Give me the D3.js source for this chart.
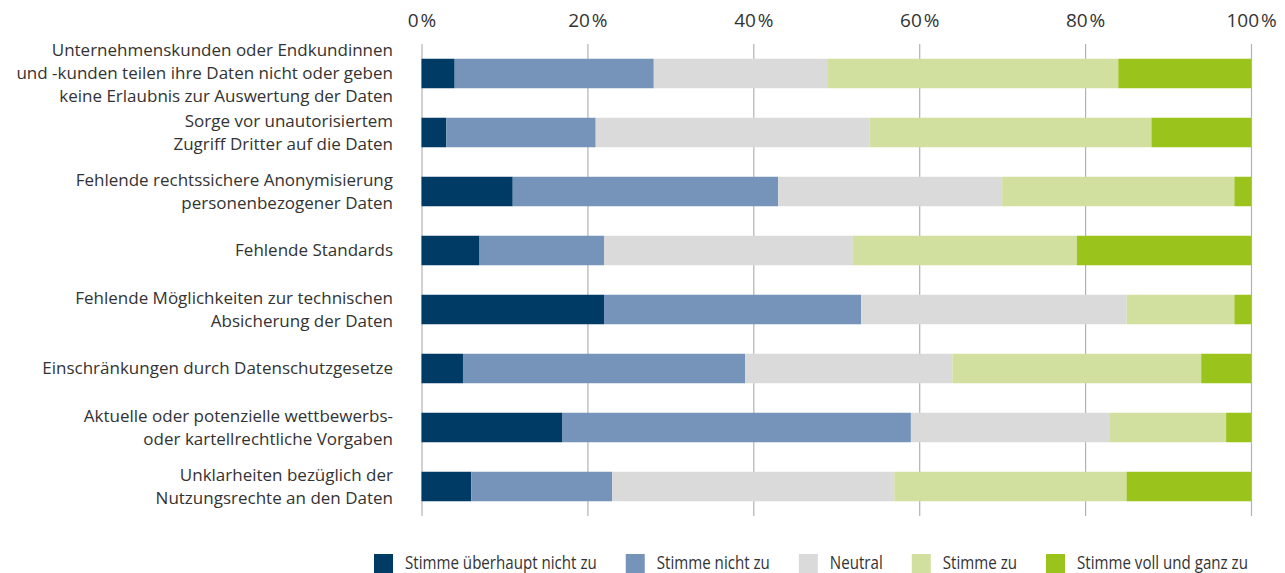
<!DOCTYPE html>
<html>
<head>
<meta charset="utf-8">
<script src="https://cdn.jsdelivr.net/npm/d3@7"></script>
<style>
  html, body { margin: 0; padding: 0; background: #fff; }
  svg { display: block; }
</style>
</head>
<body>
<svg id="chart" width="1285" height="573"></svg>
<script>
// Barrieren bei der Datennutzung – Zustimmung in Prozent
const categories = [
  ["Unternehmenskunden oder Endkundinnen", "und -kunden teilen ihre Daten nicht oder geben", "keine Erlaubnis zur Auswertung der Daten"],
  ["Sorge vor unautorisiertem", "Zugriff Dritter auf die Daten"],
  ["Fehlende rechtssichere Anonymisierung", "personenbezogener Daten"],
  ["Fehlende Standards"],
  ["Fehlende Möglichkeiten zur technischen", "Absicherung der Daten"],
  ["Einschränkungen durch Datenschutzgesetze"],
  ["Aktuelle oder potenzielle wettbewerbs-", "oder kartellrechtliche Vorgaben"],
  ["Unklarheiten bezüglich der", "Nutzungsrechte an den Daten"]
];

const seriesNames = ["Stimme überhaupt nicht zu", "Stimme nicht zu", "Neutral", "Stimme zu", "Stimme voll und ganz zu"];

const stimmeUeberhauptNichtZu = [4, 3, 11, 7, 22, 5, 17, 6];
const stimmeNichtZu           = [24, 18, 32, 15, 31, 34, 42, 17];
const neutral                 = [21, 33, 27, 30, 32, 25, 24, 34];
const stimmeZu                = [35, 34, 28, 27, 13, 30, 14, 28];
const stimmeVollUndGanzZu     = [16, 12, 2, 21, 2, 6, 3, 15];

const tickValues = [0, 20, 40, 60, 80, 100];

const colors = ["#003b66", "#7694b9", "#dadada", "#d1e09e", "#9ac31b"];

const seriesValues = [stimmeUeberhauptNichtZu, stimmeNichtZu, neutral, stimmeZu, stimmeVollUndGanzZu];

// Tabelle für d3.stack
const rows = categories.map((c, i) => {
  const r = { idx: i };
  seriesNames.forEach((s, j) => { r[s] = seriesValues[j][i]; });
  return r;
});

const svg = d3.select("#chart");
const textColor = "#333333";
const baseFont = "'Open Sans', 'Noto Sans', sans-serif";

const x = d3.scaleLinear().domain([0, 100]).range([421.5, 1251]);
const y = d3.scaleBand()
  .domain(d3.range(categories.length))
  .range([44, 516])
  .paddingInner(0.5)
  .paddingOuter(0.25);

const stacked = d3.stack().keys(seriesNames)(rows);

// Gitterlinien und Achsenbeschriftung oben
const axis = d3.axisTop(x)
  .tickValues(tickValues)
  .tickFormat(d => d + "\u200a%")
  .tickSizeInner(-472)
  .tickSizeOuter(0)
  .tickPadding(17);

const gAxis = svg.append("g")
  .attr("transform", "translate(0,44)")
  .call(axis);
gAxis.select(".domain").remove();
gAxis.selectAll(".tick line").attr("stroke", "#b2b2b2").attr("stroke-width", 1.2);
gAxis.selectAll(".tick text")
  .attr("fill", textColor)
  .style("font-family", baseFont)
  .style("font-size", "19px");

// Gestapelte Balken
svg.append("g")
  .selectAll("g")
  .data(stacked)
  .join("g")
  .attr("fill", (d, i) => colors[i])
  .selectAll("rect")
  .data(d => d)
  .join("rect")
  .attr("x", d => x(d[0]))
  .attr("width", d => x(d[1]) - x(d[0]))
  .attr("y", d => y(d.data.idx))
  .attr("height", y.bandwidth());

// Kategoriebeschriftungen (mehrzeilig)
const lineH = 23;
const labels = svg.append("g")
  .style("font-family", baseFont)
  .style("font-size", "17px")
  .attr("fill", textColor)
  .attr("text-anchor", "end");

categories.forEach((lines, i) => {
  const cy = y(i) + y.bandwidth() / 2;
  const t = labels.append("text")
    .attr("y", cy - (lines.length - 1) * lineH / 2);
  lines.forEach((ln, k) => {
    t.append("tspan")
      .attr("x", 393)
      .attr("dy", k === 0 ? "0.35em" : lineH)
      .text(ln);
  });
});

// Legende (schmal laufende Schrift)
const squeeze = 0.84;
const legend = svg.append("g")
  .style("font-family", baseFont)
  .style("font-size", "18px")
  .attr("fill", textColor);

let lx = 374;
seriesNames.forEach((name, i) => {
  const g = legend.append("g").attr("transform", `translate(${lx},554)`);
  g.append("rect").attr("width", 19).attr("height", 19).attr("fill", colors[i]);
  const t = g.append("text")
    .attr("transform", `translate(31,15) scale(${squeeze},1)`)
    .text(name);
  const w = t.node().getComputedTextLength() * squeeze;
  lx += 31 + w + 29;
});
</script>
</body>
</html>
